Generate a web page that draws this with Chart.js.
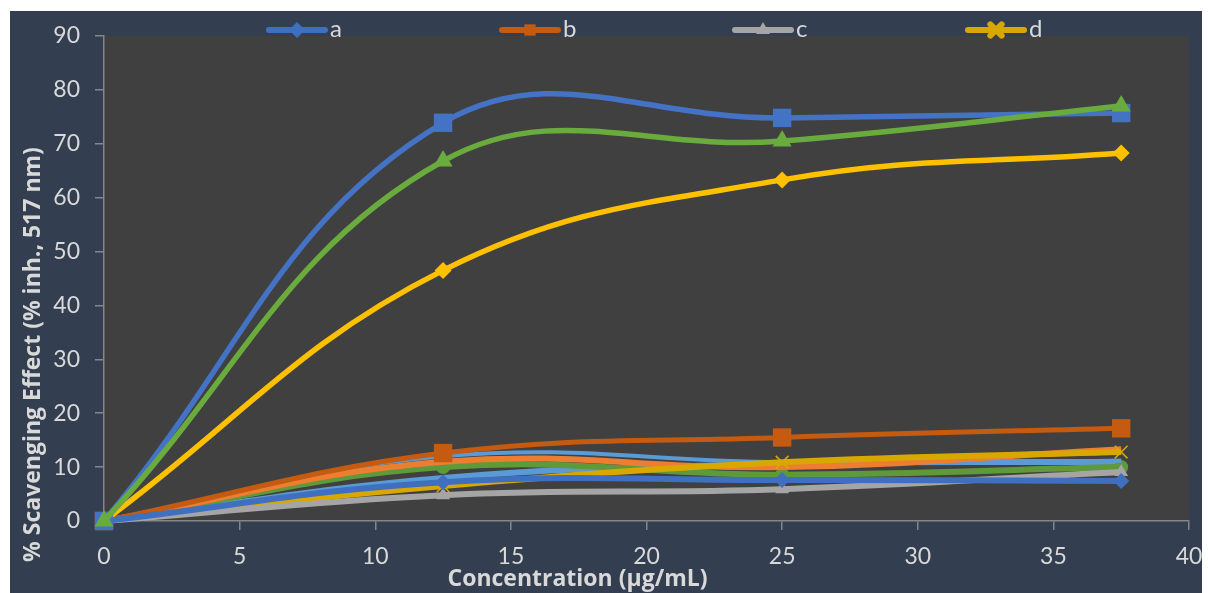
<!DOCTYPE html>
<html>
<head>
<meta charset="utf-8">
<script src="https://cdn.jsdelivr.net/npm/chart.js@4.4.0/dist/chart.umd.min.js"></script>
<style>
  html, body { margin: 0; background: #fff; overflow: hidden; }
  #wrap { position: absolute; left: 10px; top: 11px; width: 1192px; height: 582px; background: #333f50; }
</style>
</head>
<body>
<div id="wrap"><canvas id="canvas"></canvas></div>
<script>
// x values (µg/mL)
const concentrations = [0, 12.5, 25, 37.5];
const xTicks = [0, 5, 10, 15, 20, 25, 30, 35, 40];

// legend series
const seriesA = [0, 7.2, 7.6, 7.4];
const seriesB = [0, 12.6, 15.5, 17.2];
const seriesC = [0, 4.8, 5.9, 9.1];
const seriesD = [0, 6.5, 10.9, 12.8];

// other curves (no legend entry)
const upperBlue = [0, 73.9, 74.8, 75.7];
const upperGreen = [0, 66.8, 70.5, 77.0];
const upperYellow = [0, 46.5, 63.3, 68.3];
const lowBlue = [0, 12.0, 10.9, 11.2];
const lowOrange = [0, 11.0, 10.0, 13.3];
const lowGreen = [0, 10.0, 8.6, 10.0];
const lowLightBlue = [0, 8.0, 10.6, 11.0];

const xTitle = 'Concentration (µg/mL)';
const yTitle = '% Scavenging Effect (% inh., 517 nm)';

const FONT = 'Lato, "Open Sans", sans-serif';
const TITLE_FONT = '"Open Sans", Lato, sans-serif';
const TEXT = '#d9d9d9';
const AXIS = '#868686';

const makeSeries = (label, values, color, style, radius, width) => {
    return {
        label: label,
        data: concentrations.map((x, i) => ({x: x, y: values[i]})),
        borderColor: color,
        backgroundColor: color,
        pointBackgroundColor: color,
        pointBorderColor: color,
        pointStyle: style,
        pointRadius: radius,
        pointHoverRadius: radius,
        pointBorderWidth: style === 'crossRot' ? 1.5 : 0,
        borderWidth: width,
        tension: 0.4,
        clip: false,
        fill: false
    };
};

// first in the list is drawn on top
const datasets = [
    makeSeries('', upperGreen, '#6aab3e', 'triangle', 11, 5.5),
    makeSeries('', upperBlue, '#4472c4', 'rect', 13, 5.5),
    makeSeries('', upperYellow, '#ffc000', 'rectRot', 8.5, 5.5),
    makeSeries('a', seriesA, '#3f6fbf', 'rectRot', 8, 6),
    makeSeries('b', seriesB, '#c55a11', 'rect', 13, 5),
    makeSeries('c', seriesC, '#a5a5a5', 'triangle', 8, 6),
    makeSeries('d', seriesD, '#d9a800', 'crossRot', 9, 6),
    makeSeries('', lowOrange, '#ed7d31', 'circle', 0, 6),
    makeSeries('', lowBlue, '#5b9bd5', 'circle', 0, 4),
    makeSeries('', lowGreen, '#5f9a3a', 'circle', 7, 6),
    makeSeries('', lowLightBlue, '#5b9bd5', 'circle', 0, 6)
];

// dark plot area
const plotBackground = {
    id: 'plotBackground',
    beforeDraw(chart) {
        const {ctx, chartArea} = chart;
        ctx.save();
        ctx.fillStyle = '#404040';
        ctx.fillRect(chartArea.left, chartArea.top, chartArea.right - chartArea.left, chartArea.bottom - chartArea.top);
        ctx.restore();
    }
};

// y title sits lower than the axis centre in the original
const yAxisTitle = {
    id: 'yAxisTitle',
    afterDraw(chart) {
        const {ctx, chartArea} = chart;
        const cy = (chartArea.top + chartArea.bottom) / 2 + 76;
        ctx.save();
        ctx.translate(23, cy);
        ctx.rotate(-Math.PI / 2);
        ctx.fillStyle = TEXT;
        ctx.font = 'bold 23px ' + TITLE_FONT;
        ctx.textAlign = 'center';
        ctx.textBaseline = 'middle';
        ctx.fillText(yTitle, 0, 0);
        ctx.restore();
    }
};

// legend spread over the top like the original
const topLegend = {
    id: 'topLegend',
    afterDraw(chart) {
        const {ctx, chartArea} = chart;
        const items = chart.data.datasets.filter(d => d.label);
        const spacing = 233;
        const mid = (chartArea.left + chartArea.right) / 2;
        const y = 19;
        ctx.save();
        items.forEach((d, i) => {
            const cx = mid + (i - (items.length - 1) / 2) * spacing;
            ctx.strokeStyle = d.borderColor;
            ctx.lineWidth = 6;
            ctx.lineCap = 'round';
            ctx.beginPath();
            ctx.moveTo(cx - 28, y);
            ctx.lineTo(cx + 28, y);
            ctx.stroke();
            ctx.fillStyle = d.borderColor;
            Chart.helpers.drawPoint(ctx, {
                pointStyle: d.pointStyle,
                radius: 8,
                rotation: 0,
                borderWidth: d.pointStyle === 'crossRot' ? 1.2 : 0
            }, cx, y);
            ctx.fillStyle = TEXT;
            ctx.font = '24px ' + FONT;
            ctx.textAlign = 'left';
            ctx.textBaseline = 'middle';
            ctx.fillText(d.label, cx + 33, y - 1);
        });
        ctx.restore();
    }
};

const context = document.getElementById('canvas').getContext('2d');
const scavengeChart = new Chart(context, {
    type: 'line',
    data: { datasets: datasets },
    options: {
        responsive: true,
        maintainAspectRatio: false,
        animation: false,
        layout: { padding: { top: 25, right: 12, left: 0, bottom: 0 } },
        plugins: {
            legend: { display: false },
            tooltip: { enabled: false }
        },
        scales: {
            x: {
                type: 'linear',
                min: 0,
                max: 40,
                afterFit: scale => {
                    scale.height = 72;
                    scale.paddingRight = 0;
                },
                afterBuildTicks: scale => { scale.ticks = xTicks.map(v => ({value: v})); },
                ticks: { color: TEXT, font: { family: FONT, size: 23 }, padding: 13 },
                grid: { drawOnChartArea: false, drawTicks: true, tickLength: 9, color: AXIS, lineWidth: 1.5 },
                border: { color: AXIS, width: 1.5 },
                title: {
                    display: true,
                    text: xTitle + '\u2002'.repeat(12),
                    color: TEXT,
                    font: { family: TITLE_FONT, size: 23, weight: 'bold' },
                    padding: { top: 0, bottom: 0 }
                }
            },
            y: {
                min: 0,
                max: 90,
                afterFit: scale => {
                    scale.width = 94;
                    scale.paddingTop = 0;
                },
                ticks: { stepSize: 10, color: TEXT, font: { family: FONT, size: 23 }, padding: 15 },
                grid: { drawOnChartArea: false, drawTicks: true, tickLength: 9, color: AXIS, lineWidth: 1.5 },
                border: { color: AXIS, width: 1.5 },
                title: { display: false, text: yTitle }
            }
        }
    },
    plugins: [plotBackground, yAxisTitle, topLegend]
});
</script>
</body>
</html>
